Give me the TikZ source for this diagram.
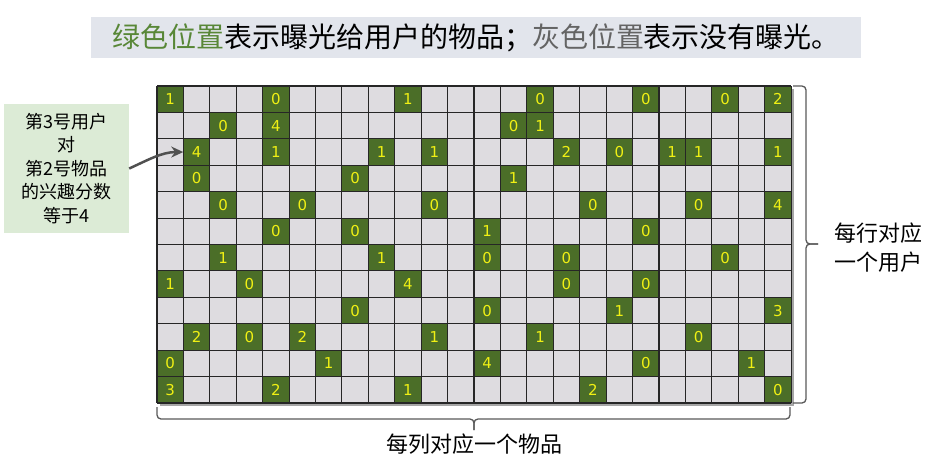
\documentclass[tikz,border=0pt]{standalone}
\usepackage{fontspec}
\newfontfamily\cjk{Noto Sans CJK SC}
\newfontfamily\numfont{DejaVu Sans}
\usetikzlibrary{arrows.meta}
\definecolor{cellgreen}{RGB}{75,110,40}
\definecolor{cellgray}{RGB}{222,220,224}
\definecolor{numyellow}{RGB}{240,240,20}
\definecolor{titlebg}{RGB}{226,229,236}
\definecolor{titlegreen}{RGB}{88,135,55}
\definecolor{titlegray}{RGB}{100,100,100}
\definecolor{notebg}{RGB}{220,235,214}
\definecolor{arrowgray}{RGB}{80,80,80}
\definecolor{bracegray}{RGB}{90,90,90}
\begin{document}
\begin{tikzpicture}[x=1pt,y=-1pt,
  hit/.style={fill=cellgreen, minimum size=26.42pt, inner sep=0pt, text=numyellow,
    font=\numfont\fontsize{15}{15}\selectfont},
  gridline/.style={draw=black!85, line width=1.1pt},
  bracket/.style={draw=bracegray, line width=1.3pt, rounded corners=4pt},
  titlebox/.style={fill=titlebg, minimum width=770pt, minimum height=41pt, inner sep=0pt,
    font=\cjk\fontsize{28}{30}\selectfont},
  notebox/.style={fill=notebg, minimum width=125pt, minimum height=129pt, inner sep=0pt,
    align=center, font=\cjk\fontsize{18}{23.5}\selectfont},
  label/.style={align=center, inner sep=0pt, font=\cjk\fontsize{22}{29}\selectfont},
  pointer/.style={draw=arrowgray, line width=2.5pt, -{Stealth[length=12pt,width=11pt]}}
]
\useasboundingbox (0,0) rectangle (932,463);
\fill[white] (0,0) rectangle (932,463);

% title
\node[titlebox] (title) at (476,37.5)
  {{\color{titlegreen}绿色位置}表示曝光给用户的物品；{\color{titlegray}灰色位置}表示没有曝光。};

% grid shadow and background
\fill[black!35] (160,89) rectangle (794.1,406.1);
\fill[cellgray] (157,86) rectangle (791.08,403.04);

% exposed cells
\foreach \r/\c/\v in {
 0/0/1,0/4/0,0/9/1,0/14/0,0/18/0,0/21/0,0/23/2,
 1/2/0,1/4/4,1/13/0,1/14/1,
 2/1/4,2/4/1,2/8/1,2/10/1,2/15/2,2/17/0,2/19/1,2/20/1,2/23/1,
 3/1/0,3/7/0,3/13/1,
 4/2/0,4/5/0,4/10/0,4/16/0,4/20/0,4/23/4,
 5/4/0,5/7/0,5/12/1,5/18/0,
 6/2/1,6/8/1,6/12/0,6/15/0,6/21/0,
 7/0/1,7/3/0,7/9/4,7/15/0,7/18/0,
 8/7/0,8/12/0,8/17/1,8/23/3,
 9/1/2,9/3/0,9/5/2,9/10/1,9/14/1,9/20/0,
 10/0/0,10/6/1,10/12/4,10/18/0,10/22/1,
 11/0/3,11/4/2,11/9/1,11/16/2,11/23/0}
  \node[hit] (g\r-\c) at ({157+(\c+0.5)*26.42},{86+(\r+0.5)*26.42}) {\v};

% grid lines
\foreach \i in {0,...,24}
  \draw[gridline] ({157+\i*26.42},86) -- ({157+\i*26.42},403.04);
\foreach \j in {0,...,12}
  \draw[gridline] (157,{86+\j*26.42}) -- (791.08,{86+\j*26.42});

% note box and arrow
\node[notebox] (note) at (66.5,168.5) {第3号用户\\对\\第2号物品\\的兴趣分数\\等于4};
\draw[pointer] (note.east) .. controls (148,160) and (162,152) .. (g2-1.west);

% right brace
\draw[bracket] (793,86) -- (806,86) -- (806,244) -- (818,244);
\draw[bracket] (818,244) -- (806,244) -- (806,403) -- (793,403);
\node[label] (rowlab) at (878,247.5) {每行对应\\一个用户};

% bottom brace
\draw[bracket] (157,407) -- (157,419) -- (474,419) -- (474,430);
\draw[bracket] (474,430) -- (474,419) -- (790,419) -- (790,407);
\node[label] (collab) at (474,444) {每列对应一个物品};
\end{tikzpicture}
\end{document}
